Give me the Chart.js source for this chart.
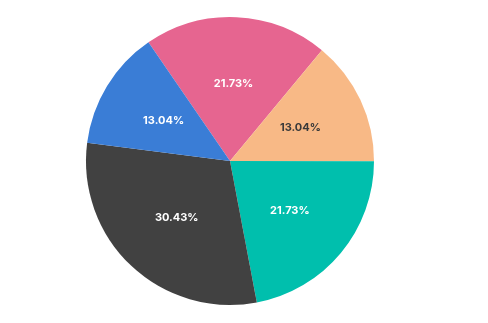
<!DOCTYPE html>
<html>
<head>
<meta charset="utf-8">
<script src="https://cdn.jsdelivr.net/npm/chart.js@4/dist/chart.umd.min.js"></script>
<style>
    html, body { margin: 0; padding: 0; background: #fff; }
    #wrap { width: 488px; height: 323px; }
</style>
</head>
<body>
<div id="wrap"><canvas id="pieChart"></canvas></div>
<script>
const labels = ['Series A', 'Series B', 'Series C', 'Series D', 'Series E'];
// slice shares as drawn in the picture
const values = [20.6, 14.0, 22.0, 30.0, 13.4];
// percentage text printed on each slice
const percentLabels = ['21.73%', '13.04%', '21.73%', '30.43%', '13.04%'];
const sliceColors = ['#e66590', '#f8b986', '#00bfad', '#414141', '#3a7dd6'];
const labelColors = ['#ffffff', '#3a3a3a', '#ffffff', '#ffffff', '#ffffff'];

// percentage labels inside each slice
const sliceLabels = {
    id: 'sliceLabels',
    afterDatasetsDraw(chart) {
        const ctx = chart.ctx;
        const meta = chart.getDatasetMeta(0);
        ctx.save();
        ctx.font = 'bold 11px Inter, "Open Sans", sans-serif';
        ctx.textAlign = 'center';
        ctx.textBaseline = 'middle';
        meta.data.forEach((arc, i) => {
            const mid = (arc.startAngle + arc.endAngle) / 2;
            const r = arc.outerRadius * 0.54;
            const x = arc.x + Math.cos(mid) * r;
            const y = arc.y + Math.sin(mid) * r;
            ctx.fillStyle = labelColors[i];
            ctx.fillText(percentLabels[i], x, y);
        });
        ctx.restore();
    }
};

const ctx = document.getElementById('pieChart').getContext('2d');
new Chart(ctx, {
    type: 'pie',
    data: {
        labels: labels,
        datasets: [{
            data: values,
            backgroundColor: sliceColors,
            borderWidth: 0,
            hoverOffset: 0
        }]
    },
    options: {
        responsive: true,
        maintainAspectRatio: false,
        animation: false,
        rotation: -34.5,
        layout: { padding: { top: 17, bottom: 18, left: 0, right: 28 } },
        plugins: {
            legend: { display: false },
            tooltip: { enabled: false }
        }
    },
    plugins: [sliceLabels]
});
</script>
</body>
</html>
